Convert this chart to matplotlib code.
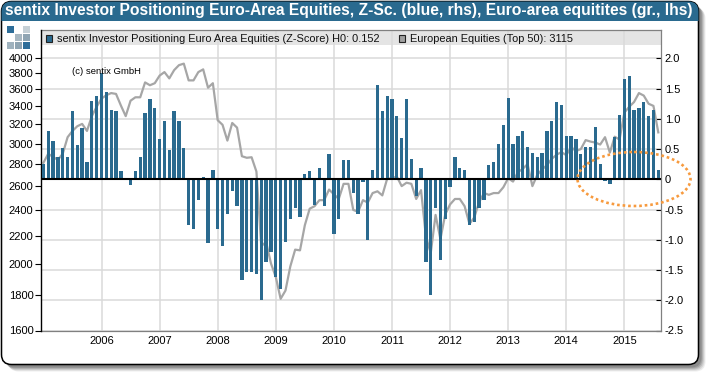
import numpy as np
import matplotlib
matplotlib.use('Agg')
import matplotlib.pyplot as plt
from matplotlib.patches import Rectangle, FancyBboxPatch, Ellipse

plt.rcParams['font.family'] = ['Liberation Sans', 'DejaVu Sans']

# sentix z-score, monthly, Jan 2005 - Aug 2015
zscore = [0.26, 0.80, 0.64, 0.36, 0.52, 0.36, 1.12, 0.57, 0.84, 0.28, 1.30, 1.38,
          1.76, 1.45, 1.15, 1.12, 0.13, 0.00, -0.09, 0.14, 0.37, 1.10, 1.32, 1.18,
          0.66, 0.97, 0.49, 1.13, 0.97, 0.51, -0.75, -0.83, -0.34, 0.03, -1.06, 0.16,
          -0.82, -1.10, -0.57, -0.19, -0.44, -1.66, -1.54, -1.54, -1.56, -2.00, -1.36, -1.21,
          -1.61, -1.82, -1.03, -0.65, -0.48, -0.62, 0.09, 0.13, -0.42, 0.19, -0.44, 0.41,
          -0.91, -0.65, 0.31, 0.31, -0.22, -0.58, -0.05, -1.00, 0.16, 1.55, 1.12, 1.38,
          1.33, 1.05, 0.69, 1.33, 0.34, -0.27, 0.18, -1.36, -1.91, -0.47, -1.34, -0.65,
          -0.12, 0.36, 0.19, 0.16, -0.75, -0.70, -0.47, -0.34, 0.24, 0.29, 0.59, 0.89,
          1.35, 0.59, 0.71, 0.80, 0.54, 0.44, 0.36, 0.44, 0.80, 0.97, 1.28, 1.22,
          0.72, 0.71, 0.66, 0.41, 0.54, 0.54, 0.87, 0.26, -0.03, -0.08, 0.70, 1.07,
          1.66, 1.71, 1.15, 1.18, 1.28, 1.04, 1.15, 0.15]

# European equities (Top 50), same months
equities = [2812, 2900, 2867, 2840, 2900, 3065, 3130, 3180, 3205, 3130, 3290, 3395,
            3490, 3530, 3555, 3545, 3410, 3290, 3465, 3505, 3505, 3685, 3650, 3675,
            3770, 3815, 3735, 3840, 3905, 3925, 3710, 3710, 3815, 3850, 3620, 3675,
            3245, 3195, 3030, 3215, 3165, 2875, 2860, 2865, 2730, 2125, 2155, 2005,
            1915, 1780, 1830, 1985, 2100, 2095, 2280, 2410, 2430, 2480, 2480, 2570,
            2530, 2490, 2620, 2620, 2400, 2385, 2480, 2460, 2540, 2555, 2520, 2665,
            2670, 2685, 2600, 2630, 2620, 2490, 2565, 2195, 2075, 2360, 2175, 2365,
            2445, 2490, 2490, 2430, 2290, 2340, 2465, 2540, 2525, 2540, 2540, 2590,
            2670, 2640, 2725, 2755, 2800, 2600, 2700, 2750, 2790, 2850, 2890, 2915,
            2885, 2965, 2925, 2945, 3035, 3020, 3010, 2990, 3065, 2910, 3070, 3040,
            3330, 3395, 3450, 3555, 3525, 3430, 3405, 3115]

years = [2006, 2007, 2008, 2009, 2010, 2011, 2012, 2013, 2014, 2015]
left_ticks = [1600, 1800, 2000, 2200, 2400, 2600, 2800, 3000, 3200, 3400, 3600, 3800, 4000]
right_ticks = [-2.5, -2.0, -1.5, -1.0, -0.5, 0, 0.5, 1.0, 1.5, 2.0]
right_labels = ['-2.5', '-2.0', '-1.5', '-1.0', '-0.5', '0', '0.5', '1.0', '1.5', '2.0']

title = 'sentix Investor Positioning Euro-Area Equities, Z-Sc. (blue, rhs), Euro-area equitites (gr., lhs)'
legend_blue = 'sentix Investor Positioning Euro Area Equities (Z-Score) H0: 0.152'
legend_grey = 'European Equities (Top 50): 3115'

BLUE = '#2A6A8F'
W, H = 710, 376
months = 2005 + np.arange(len(zscore)) / 12
xlim = (2005 - 0.6 / 12, 2005 + 127.5 / 12)
rhs_lim = (-2.5, 2.467)
lhs_lim = (1600, 4395)

fig = plt.figure(figsize=(W / 100, H / 100), dpi=100, facecolor='white')

# frame, title bar, logo
bg = fig.add_axes([0, 0, 1, 1], zorder=0)
bg.set_xlim(0, W)
bg.set_ylim(H, 0)
bg.axis('off')
for off, a in [(7, 0.10), (6, 0.14), (5, 0.18), (4, 0.25), (3, 0.3)]:
    bg.add_patch(FancyBboxPatch((1.5 + off + 8, 1.5 + off + 8), 681, 347,
                                boxstyle='round,pad=8,rounding_size=10', fc='#555555', ec='none', alpha=a))
box = FancyBboxPatch((9.5, 9.5), 681, 347, boxstyle='round,pad=8,rounding_size=10',
                     fc='white', ec='black', lw=1.1)
bg.add_patch(box)
bar = Rectangle((0, 0), W, 20.5, fc=BLUE, ec='none')
bar.set_clip_path(box)
bg.add_patch(bar)
logo = [(7, 26, '#2D6D99'), (23, 26, '#C5D0D6'), (15, 34, '#A8B8C2'), (23, 34, '#8FA5B3'),
        (7, 42, '#9FB2BE'), (15, 42, '#8EA4B2'), (23, 42, '#2D6D99')]
for lx, ly, c in logo:
    bg.add_patch(Rectangle((lx, ly), 7, 7, fc=c, ec='none'))

rect = [40.5 / W, (H - 330.5) / H, 620.2 / W, 300.5 / H]

# grid and right axis
ax_r = fig.add_axes(rect, zorder=1, facecolor='none')
ax_r.set_xlim(xlim)
ax_r.set_ylim(rhs_lim)
ax_r.add_patch(Rectangle((0, (330.5 - 45) / 300.5), 1, 15 / 300.5, transform=ax_r.transAxes,
                         fc='#E4E4E4', ec='none', zorder=0.2))
ax_r.set_axisbelow(True)
ax_r.grid(True, color='#DADADA', lw=1.1)
ax_r.set_xticks(years)
ax_r.set_xticklabels([str(y) for y in years], fontsize=8, color='black')
ax_r.tick_params(axis='x', length=0, pad=4)
ax_r.yaxis.tick_right()
ax_r.set_yticks(right_ticks)
ax_r.set_yticklabels(right_labels, fontsize=8, color='black')
ax_r.tick_params(axis='y', direction='in', length=3.4, width=0.8, color='black', pad=3)
for s in ['top', 'right', 'bottom']:
    ax_r.spines[s].set_color('#808080')
    ax_r.spines[s].set_linewidth(0.9)
ax_r.spines['left'].set_visible(False)

# equities on the left log axis
ax_l = fig.add_axes(rect, zorder=2, facecolor='none')
ax_l.plot(months, equities, color='#A6A6A6', lw=1.6)
ax_l.set_xlim(xlim)
ax_l.set_yscale('log')
ax_l.set_ylim(lhs_lim)
ax_l.set_xticks([])
ax_l.minorticks_off()
ax_l.set_yticks(left_ticks)
ax_l.set_yticklabels([str(v) for v in left_ticks], fontsize=8, color='black')
ax_l.tick_params(axis='y', which='major', length=4.6, width=0.8, color='black', pad=0.5)
ax_l.tick_params(axis='y', which='minor', length=0)
for s in ['top', 'right', 'bottom']:
    ax_l.spines[s].set_visible(False)
ax_l.spines['left'].set_linewidth(1.0)

# bars over the line
ax_b = fig.add_axes(rect, zorder=3, facecolor='none')
ax_b.bar(months, zscore, width=3.3 / 58.09, color=BLUE, lw=0)
ax_b.axhline(0, color='black', lw=1.5)
ax_b.set_xlim(xlim)
ax_b.set_ylim(rhs_lim)
ax_b.axis('off')

# texts and ring
fg = fig.add_axes([0, 0, 1, 1], zorder=4, facecolor='none')
fg.set_xlim(0, W)
fg.set_ylim(H, 0)
fg.axis('off')
fg.text(5, 10.5, title, color='white', fontsize=11.25, fontweight='bold', va='center', ha='left')
fg.text(72, 71.5, '(c) sentix GmbH', fontsize=6.8, va='center', ha='left')
fg.add_patch(Rectangle((45.5, 34.5), 6, 7, fc=BLUE, ec='#222222', lw=0.8))
fg.text(57, 38.5, legend_blue, fontsize=7.9, va='center', ha='left', color='#111111')
fg.add_patch(Rectangle((399, 34.5), 6, 7, fc='#A0A0A0', ec='#222222', lw=0.8))
fg.text(410, 38.5, legend_grey, fontsize=7.9, va='center', ha='left', color='#111111')
fg.add_patch(Ellipse((634, 179), 113, 54, fill=False, ec='#F79A3E', lw=1.9, linestyle=(0, (1, 1.1))))

plt.savefig('out.png', dpi=100)
